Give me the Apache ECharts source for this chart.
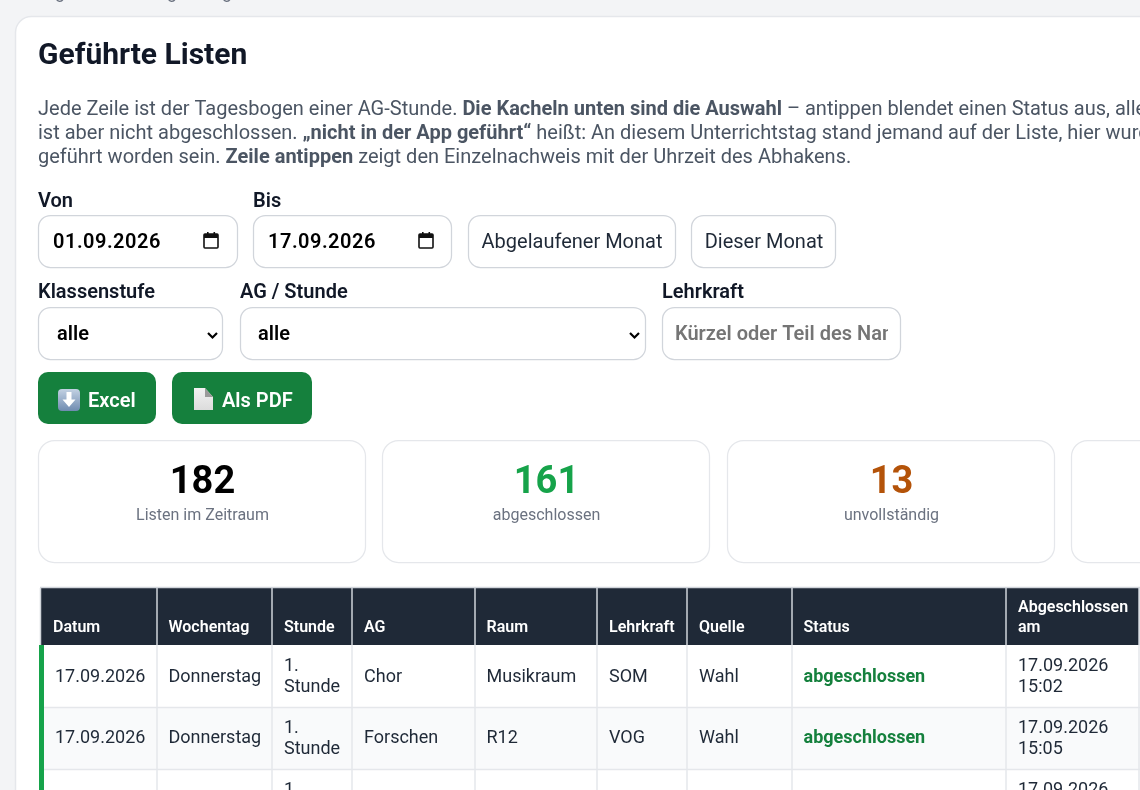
<!doctype html>
<html><head><meta charset="utf-8"></head>
<body style="margin:0;background:#f3f4f6">
<div id="container" style="width:1140px;height:790px"></div>
<script src="https://cdn.jsdelivr.net/npm/echarts@6/dist/echarts.min.js"></script>
<script>
var FONT = 'Roboto';
var kpiValues = ['182', '161', '13'];
var kpiLabels = ['Listen im Zeitraum', 'abgeschlossen', 'unvollständig'];
var kpiColors = ['#000000', '#16a34a', '#b45309'];
var columns = ['Datum', 'Wochentag', 'Stunde', 'AG', 'Raum', 'Lehrkraft', 'Quelle', 'Status', 'Abgeschlossen\nam'];
var columnEdges = [41, 157, 272, 352, 475, 597, 687, 792, 1006, 1139];
var rowDatum = ['17.09.2026', '17.09.2026', ''];
var rowTag = ['Donnerstag', 'Donnerstag', ''];
var rowStunde = ['1.\nStunde', '1.\nStunde', '1.\nStunde'];
var rowAg = ['Chor', 'Forschen', ''];
var rowRaum = ['Musikraum', 'R12', ''];
var rowLehrkraft = ['SOM', 'VOG', ''];
var rowQuelle = ['Wahl', 'Wahl', ''];
var rowStatus = ['abgeschlossen', 'abgeschlossen', ''];
var rowAm = ['17.09.2026\n15:02', '17.09.2026\n15:05', '17.09.2026\n15:09'];

var els = [];
function rect(x, y, w, h, r, fill, stroke, lw) {
    els.push({type: 'rect', silent: true, shape: {x: x, y: y, width: w, height: h, r: r || 0},
        style: {fill: fill || 'transparent', stroke: stroke || null, lineWidth: lw || 1}});
}
function txt(x, y, s, size, weight, color, align, lh) {
    els.push({type: 'text', silent: true, x: x, y: y, style: {text: s, fontFamily: FONT, fontSize: size, fontWeight: weight,
        fill: color, align: align || 'left', verticalAlign: 'middle', lineHeight: lh || undefined}});
}
function line(pts, color, lw) {
    els.push({type: 'polyline', silent: true, shape: {points: pts}, style: {stroke: color, lineWidth: lw, fill: null}});
}
function calendar(x, y) {
    rect(x + 1, y + 2, 14, 14, 1, null, '#111', 1.6);
    rect(x + 1, y + 2, 14, 4, 0, '#111');
    rect(x + 4, y, 1.6, 3, 0, '#111');
    rect(x + 10.5, y, 1.6, 3, 0, '#111');
}
function chevron(x, y) {
    line([[x, y], [x + 4.5, y + 4.5], [x + 9, y]], '#000', 2.2);
}
// datumsfeld hat etwas sperrung
function spaced(x, y, s) {
    s.split('').forEach(function (ch) {
        txt(x, y, ch, 20, 600, '#000');
        x += (ch === '.' ? 5.3 : 11.25) + 0.75;
    });
}

// seite und karte
['g', 'g', 'g'].forEach(function (ch, i) {
    txt([55, 167, 222][i], -7, ch, 18, 400, '#6b7280');
});
rect(15.5, 16.5, 1300, 900, 16, '#ffffff', '#e5e7eb', 1.5);
txt(38, 56, 'Geführte Listen', 30, 700, '#111827');

var descRich = {
    n: {fontFamily: FONT, fontSize: 20, fill: '#4b5563'},
    b: {fontFamily: FONT, fontSize: 20, fontWeight: 700, fill: '#4b5563'}
};
var descLines = [
    '{n|Jede Zeile ist der Tagesbogen einer AG-Stunde. }{b|Die Kacheln unten sind die Auswahl}{n| – antippen blendet einen Status aus, alle}',
    '{n|ist aber nicht abgeschlossen. }{b|„nicht in der App geführt“}{n| heißt: An diesem Unterrichtstag stand jemand auf der Liste, hier wurde}',
    '{n|geführt worden sein. }{b|Zeile antippen}{n| zeigt den Einzelnachweis mit der Uhrzeit des Abhakens.}'
];
descLines.forEach(function (s, i) {
    els.push({type: 'text', silent: true, x: 38, y: 110 + i * 24, style: {text: s, rich: descRich, verticalAlign: 'middle', fontFamily: FONT, fontSize: 20, fill: '#4b5563'}});
});

// filter
var BORDER = '#d1d5db', BW = 1.25;
txt(38, 202, 'Von', 20, 600, '#111827');
txt(253, 202, 'Bis', 20, 600, '#111827');
rect(38.5, 215.5, 199, 52, 12, '#fff', BORDER, BW);
rect(253.5, 215.5, 198, 52, 12, '#fff', BORDER, BW);
spaced(53, 243, '01.09.2026');
spaced(268, 243, '17.09.2026');
calendar(203, 232);
calendar(418, 232);
rect(468.5, 215.5, 207, 52, 12, '#fff', BORDER, BW);
rect(691.5, 215.5, 144, 52, 12, '#fff', BORDER, BW);
txt(572, 243, 'Abgelaufener Monat', 20, 400, '#1f2937', 'center');
txt(764, 243, 'Dieser Monat', 20, 400, '#1f2937', 'center');

txt(38, 293, 'Klassenstufe', 20, 600, '#111827');
txt(240, 293, 'AG / Stunde', 20, 600, '#111827');
txt(662, 293, 'Lehrkraft', 20, 600, '#111827');
rect(38.5, 307.5, 184, 52, 12, '#fff', BORDER, BW);
rect(240.5, 307.5, 405, 52, 12, '#fff', BORDER, BW);
txt(57, 335, 'alle', 20, 600, '#000');
txt(258, 335, 'alle', 20, 600, '#000');
chevron(208, 333);
chevron(630, 333);
// platzhalter wird am feldrand abgeschnitten
rect(662.5, 307.5, 238, 52, 12, '#fff');
txt(675, 335, 'Kürzel oder Teil des Namens', 20, 600, '#757575');
rect(888, 309, 120, 50, 0, '#fff');
rect(662.5, 307.5, 238, 52, 12, null, BORDER, BW);

// buttons
rect(38, 372, 118, 52, 10, '#15803d');
rect(172, 372, 140, 52, 10, '#15803d');
els.push({type: 'rect', silent: true, shape: {x: 58, y: 389, width: 22, height: 22, r: 4}, style: {fill: {type: 'linear', x: 0, y: 0, x2: 0, y2: 1,
    colorStops: [{offset: 0, color: '#c3d2e3'}, {offset: 1, color: '#6f8bb0'}]}}});
els.push({type: 'polygon', silent: true, shape: {points: [[66.5, 392], [71.5, 392], [71.5, 399.5], [75.5, 399.5], [69, 407], [62.5, 399.5], [66.5, 399.5]]}, style: {fill: '#fff'}});
els.push({type: 'polygon', silent: true, shape: {points: [[194, 388], [205, 388], [213, 397], [213, 410], [194, 410]]}, style: {fill: {type: 'linear', x: 0, y: 0, x2: 0, y2: 1,
    colorStops: [{offset: 0, color: '#f2f2f2'}, {offset: 1, color: '#dcdcdc'}]}}});
els.push({type: 'polygon', silent: true, shape: {points: [[205, 388], [205, 397], [213, 397]]}, style: {fill: '#9a9a9a'}});
txt(88, 402, 'Excel', 20, 600, '#fff');
txt(222, 402, 'Als PDF', 20, 600, '#fff');

// kacheln
var kpiX = [38.5, 382.5, 727.5, 1071.5];
kpiX.forEach(function (x, i) {
    rect(x, 440.5, 327, 122, 16, '#fff', '#e5e7eb', 1.25);
    if (i < kpiValues.length) {
        txt(x + 164, 483, kpiValues[i], 38, 700, kpiColors[i], 'center');
        txt(x + 164, 516, kpiLabels[i], 16, 400, '#6b7280', 'center');
    }
});

// tabelle
var headTop = 588, headBottom = 645, rowEdges = [645, 707, 769, 831];
var cols = [rowDatum, rowTag, rowStunde, rowAg, rowRaum, rowLehrkraft, rowQuelle, rowStatus, rowAm];
rect(41, headTop, 1098, headBottom - headTop, 0, '#1f2937');
line([[40, 587.5], [1140, 587.5]], '#d1d5db', 1.5);
for (var r = 0; r < 3; r++) {
    rect(41, rowEdges[r], 1099, 62, 0, r % 2 ? '#f9fafb' : '#ffffff');
}
for (r = 0; r < 2; r++) {
    line([[41, rowEdges[r + 1] + 0.5], [1140, rowEdges[r + 1] + 0.5]], '#e5e7eb', 1.5);
}
columnEdges.forEach(function (x, i) {
    if (i === 0) return;
    line([[x, headTop], [x, headBottom]], '#d1d5db', 1.5);
    line([[x, headBottom], [x, 790]], '#e5e7eb', 1.5);
});
line([[40.5, headTop], [40.5, headBottom]], '#d1d5db', 1.5);
rect(39, 645, 5, 145, 0, '#16a34a');

columns.forEach(function (c, i) {
    var x = columnEdges[i] + 12 - (i === 1 || i === 4 || i === 7 ? 0.5 : 0);
    if (c.indexOf('\n') >= 0) txt(x, 618, c, 16, 600, '#fff', 'left', 20.5);
    else txt(x, 628, c, 16, 600, '#fff');
});
cols.forEach(function (col, i) {
    var x = columnEdges[i] + 12 + (i === 0 ? 2 : 0) - (i === 1 || i === 4 || i === 7 ? 0.5 : 0);
    col.forEach(function (s, r) {
        if (!s) return;
        var single = rowEdges[r] + (r === 1 ? 31 : 32);
        if (i === 7) txt(x, single, s, 18, 700, '#15803d');
        else if (s.indexOf('\n') >= 0) txt(x, rowEdges[r] + 32, s, 18, 400, '#1f2937', 'left', 21.5);
        else txt(x, single, s, 18, 400, '#1f2937');
    });
});

var myChart = echarts.init(document.getElementById('container'));
myChart.setOption({animation: false, backgroundColor: '#f3f4f6', graphic: {elements: els}});
</script>
</body></html>
